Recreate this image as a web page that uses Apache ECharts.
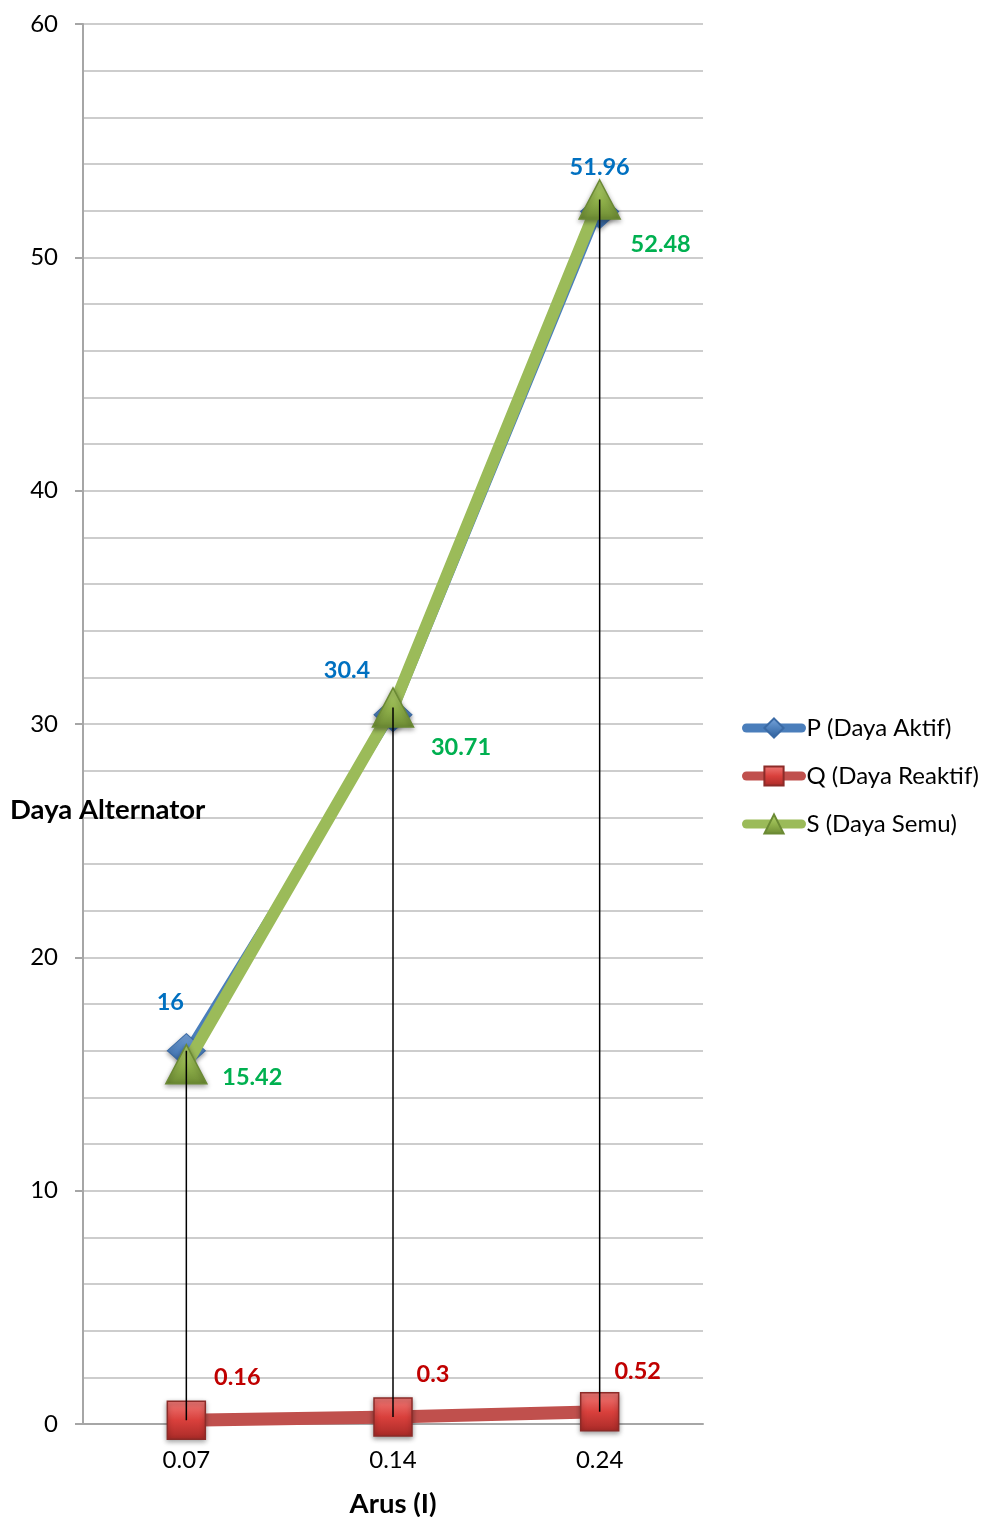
<!DOCTYPE html>
<html>
<head>
<meta charset="utf-8">
<script src="https://cdn.jsdelivr.net/npm/echarts@6/dist/echarts.min.js"></script>
<style>
  html, body { margin: 0; padding: 0; background: #fff; }
  #chart { width: 981px; height: 1517px; }
</style>
</head>
<body>
<div id="chart"></div>
<script>
// Current categories (Arus, I)
const categories = ['0.07', '0.14', '0.24'];
// Power values per current step
const activePower = [16, 30.4, 51.96];      // P (Daya Aktif)
const reactivePower = [0.16, 0.3, 0.52];    // Q (Daya Reaktif)
const apparentPower = [15.42, 30.71, 52.48]; // S (Daya Semu)
// Value axis ticks
const yMin = 0, yMax = 60, yStep = 10;

// Label offsets (pixels from the point) for each series
const pLabelOffset = [[-16, -48], [-46, -44], [0, -44]];
const qLabelOffset = [[51, -43], [40, -43], [38, -40]];
const sLabelOffset = [[66, 13], [68, 40], [61, 45]];

const FONT = 'Lato, "Open Sans", sans-serif';

function withLabels(values, offsets) {
  return values.map((v, i) => ({
    value: v,
    label: { offset: offsets[i] }
  }));
}

function labelStyle(color) {
  return {
    show: true,
    position: 'inside',
    align: 'center',
    verticalAlign: 'middle',
    color: color,
    fontFamily: FONT,
    fontWeight: 'bold',
    fontSize: 23.5
  };
}

// High-low span per category (max to min of all series)
const spans = categories.map((c, i) => {
  const vals = [activePower[i], reactivePower[i], apparentPower[i]];
  return [i, Math.max(...vals), Math.min(...vals)];
});

const chart = echarts.init(document.getElementById('chart'), null, { renderer: 'canvas' });

const option = {
  backgroundColor: '#ffffff',
  animation: false,
  grid: {
    left: 83, right: 278, top: 24, bottom: 93,
    containLabel: false,
    outerBoundsMode: 'none'
  },
  legend: {
    orient: 'vertical',
    left: 742,
    top: 716,
    padding: 0,
    itemWidth: 55,
    itemHeight: 24,
    itemGap: 24,
    lineStyle: { width: 9, cap: 'round' },
    textStyle: { fontFamily: FONT, fontSize: 24, lineHeight: 24, color: '#000' },
    data: ['P (Daya Aktif)', 'Q (Daya Reaktif)', 'S (Daya Semu)']
  },
  xAxis: {
    type: 'category',
    data: categories,
    boundaryGap: true,
    name: 'Arus (I)',
    nameLocation: 'middle',
    nameGap: 66,
    nameTextStyle: { fontFamily: FONT, fontWeight: 'bold', fontSize: 27.5, color: '#000' },
    axisLine: { show: true, lineStyle: { color: '#a6a6a6', width: 2 } },
    axisTick: { show: false },
    axisLabel: { fontFamily: FONT, fontSize: 24, color: '#000', margin: 24 },
    splitLine: { show: false }
  },
  yAxis: {
    type: 'value',
    min: yMin,
    max: yMax,
    interval: yStep,
    axisLine: { show: true, lineStyle: { color: '#a6a6a6', width: 2 } },
    axisTick: { show: true, length: 8, lineStyle: { color: '#a6a6a6', width: 2 } },
    axisLabel: { fontFamily: FONT, fontSize: 24, color: '#000', margin: 25 },
    splitLine: { show: true, lineStyle: { color: '#bdbdbd', width: 1.5 } },
    minorTick: { show: false, splitNumber: 5 },
    minorSplitLine: { show: true, lineStyle: { color: '#bdbdbd', width: 1.5 } }
  },
  graphic: [{
    type: 'text',
    left: 10,
    top: 796,
    z: 100,
    style: {
      text: 'Daya Alternator',
      fontFamily: FONT,
      fontWeight: 'bold',
      fontSize: 27.5,
      fill: '#000'
    }
  }],
  series: [
    {
      name: 'P (Daya Aktif)',
      type: 'line',
      data: withLabels(activePower, pLabelOffset),
      z: 3,
      lineStyle: { color: '#4a7ebb', width: 6 },
      symbol: 'diamond',
      symbolSize: [38, 34],
      itemStyle: {
        color: new echarts.graphic.LinearGradient(0, 0, 0, 1, [
          { offset: 0, color: '#7aa6dc' },
          { offset: 0.5, color: '#4f81bd' },
          { offset: 1, color: '#2f5f99' }
        ]),
        borderColor: '#3a6aa5',
        borderWidth: 1,
        shadowBlur: 4,
        shadowColor: 'rgba(0,0,0,0.35)',
        shadowOffsetY: 2
      },
      label: labelStyle('#0070c0')
    },
    {
      name: 'Q (Daya Reaktif)',
      type: 'line',
      data: withLabels(reactivePower, qLabelOffset),
      z: 3,
      lineStyle: { color: '#c0504d', width: 13 },
      symbol: 'rect',
      symbolSize: [38, 38],
      itemStyle: {
        color: new echarts.graphic.LinearGradient(0, 0, 0, 1, [
          { offset: 0, color: '#f07b78' },
          { offset: 0.5, color: '#d9403c' },
          { offset: 1, color: '#a82a27' }
        ]),
        borderColor: '#8c2b28',
        borderWidth: 1.5,
        shadowBlur: 5,
        shadowColor: 'rgba(0,0,0,0.4)',
        shadowOffsetY: 2
      },
      label: labelStyle('#c00000')
    },
    {
      name: 'S (Daya Semu)',
      type: 'line',
      data: withLabels(apparentPower, sLabelOffset),
      z: 4,
      lineStyle: { color: '#9bbb59', width: 12 },
      symbol: 'triangle',
      symbolSize: [41, 39],
      itemStyle: {
        color: new echarts.graphic.LinearGradient(0, 0, 0, 1, [
          { offset: 0, color: '#b5d56f' },
          { offset: 0.55, color: '#8fb04a' },
          { offset: 1, color: '#6c8a33' }
        ]),
        borderColor: '#6b8a34',
        borderWidth: 1.5,
        shadowBlur: 5,
        shadowColor: 'rgba(0,0,0,0.35)',
        shadowOffsetY: 2
      },
      label: labelStyle('#00b050')
    },
    {
      // High-low lines between the largest and smallest value of each category
      type: 'custom',
      z: 10,
      silent: true,
      data: spans,
      encode: { x: 0, y: [1, 2] },
      renderItem: function (params, api) {
        const top = api.coord([api.value(0), api.value(1)]);
        const bottom = api.coord([api.value(0), api.value(2)]);
        return {
          type: 'line',
          shape: { x1: top[0], y1: top[1], x2: bottom[0], y2: bottom[1] },
          style: { stroke: '#000', lineWidth: 1.5 }
        };
      }
    }
  ]
};

chart.setOption(option);
</script>
</body>
</html>
